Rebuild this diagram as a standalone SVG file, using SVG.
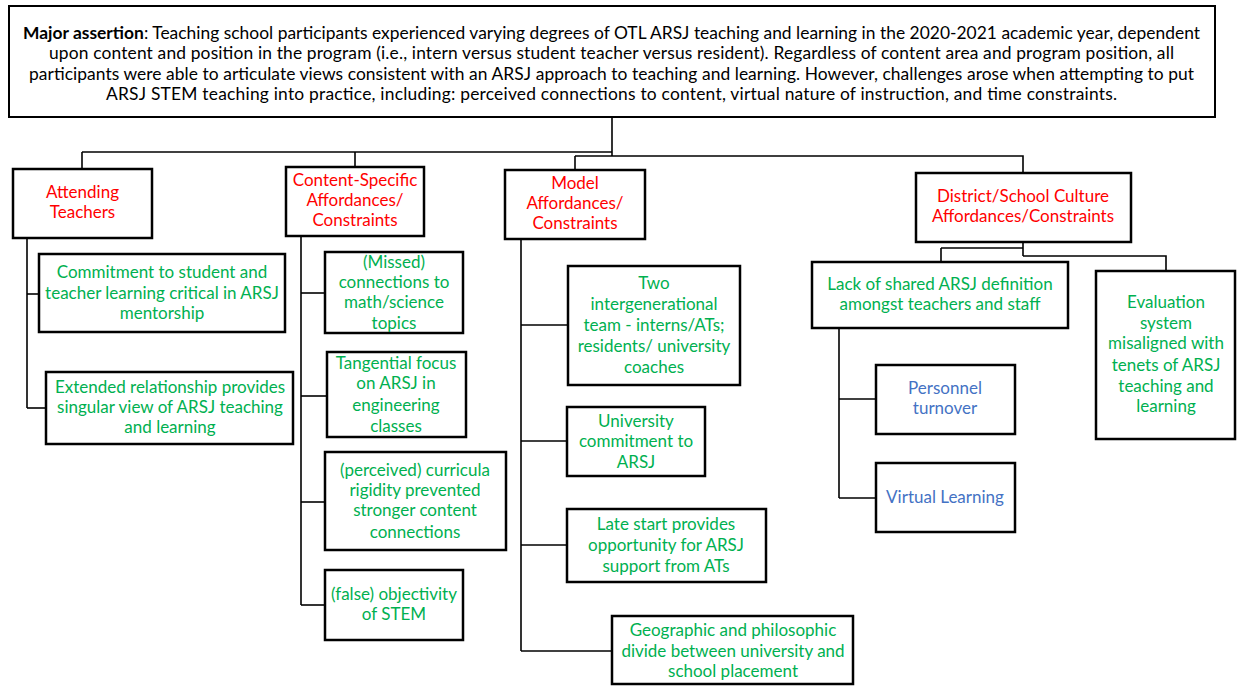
<svg xmlns="http://www.w3.org/2000/svg" width="1238" height="686" viewBox="0 0 1238 686">
  <style>
    text { font-family: Lato, "Liberation Sans", sans-serif; font-size: 17px; text-anchor: middle; }
    .box { fill: #ffffff; stroke: #000000; stroke-width: 2.5; }
    .main { fill: #ffffff; stroke: #000000; stroke-width: 2; }
    .head { fill: #ff0000; }
    .item { fill: #00b050; }
    .sub { fill: #4472c4; }
    .body { fill: #000000; font-size: 17.4px; }
    .wire { fill: none; stroke: #000000; stroke-width: 1.6; }
  </style>
  <rect width="1238" height="686" fill="#ffffff"/>

  <!-- connectors -->
  <g id="connectors" class="wire">
    <path d="M612,117 V156"/>
    <path d="M82,152 H612"/>
    <path d="M82,152 V169"/>
    <path d="M355,152 V167"/>
    <path d="M575,156 H1023 V173"/>
    <path d="M575,156 V170"/>
    <!-- attending teachers -->
    <path d="M27,238 V408"/>
    <path d="M27,294 H39"/>
    <path d="M27,408 H46"/>
    <!-- content-specific -->
    <path d="M301,236 V605"/>
    <path d="M301,293 H325"/>
    <path d="M301,396 H327"/>
    <path d="M301,502 H325"/>
    <path d="M301,605 H325"/>
    <!-- model -->
    <path d="M521,239 V651"/>
    <path d="M521,325 H568"/>
    <path d="M521,441 H567"/>
    <path d="M521,545 H567"/>
    <path d="M521,651 H612"/>
    <!-- district/school culture -->
    <path d="M1023,242 V256"/>
    <path d="M941,248 H1023"/>
    <path d="M941,248 V262"/>
    <path d="M1023,256 H1166 V271"/>
    <path d="M839,328 V498"/>
    <path d="M839,399 H876"/>
    <path d="M839,498 H876"/>
  </g>

  <g id="assertion">
    <rect class="main" x="9" y="6" width="1206" height="111"/>
    <text class="body" x="611.5" y="38.5" textLength="1177" lengthAdjust="spacing"><tspan font-weight="bold">Major assertion</tspan>: Teaching school participants experienced varying degrees of OTL ARSJ teaching and learning in the 2020-2021 academic year, dependent</text>
    <text class="body" x="611.5" y="59" textLength="1125" lengthAdjust="spacing">upon content and position in the program (i.e., intern versus student teacher versus resident). Regardless of content area and program position, all</text>
    <text class="body" x="611.5" y="79.5" textLength="1165" lengthAdjust="spacing">participants were able to articulate views consistent with an ARSJ approach to teaching and learning. However, challenges arose when attempting to put</text>
    <text class="body" x="611.5" y="100" textLength="1011" lengthAdjust="spacing">ARSJ STEM teaching into practice, including: perceived connections to content, virtual nature of instruction, and time constraints.</text>
  </g>

  <g id="attending">
    <rect class="box" x="13" y="169" width="139" height="69"/>
    <text class="head" x="82.5" y="198">Attending</text>
    <text class="head" x="82.5" y="218">Teachers</text>
  </g>
  <g id="content">
    <rect class="box" x="286" y="167" width="138" height="69"/>
    <text class="head" x="355" y="186">Content-Specific</text>
    <text class="head" x="355" y="206">Affordances/</text>
    <text class="head" x="355" y="226">Constraints</text>
  </g>
  <g id="model">
    <rect class="box" x="505" y="170" width="140" height="69"/>
    <text class="head" x="575" y="189">Model</text>
    <text class="head" x="575" y="209">Affordances/</text>
    <text class="head" x="575" y="229">Constraints</text>
  </g>
  <g id="district">
    <rect class="box" x="916" y="173" width="215" height="69"/>
    <text class="head" x="1023" y="202">District/School Culture</text>
    <text class="head" x="1023" y="222">Affordances/Constraints</text>
  </g>

  <g id="commitment">
    <rect class="box" x="39" y="254" width="246" height="78"/>
    <text class="item" x="162" y="278">Commitment to student and</text>
    <text class="item" x="162" y="299">teacher learning critical in ARSJ</text>
    <text class="item" x="162" y="319">mentorship</text>
  </g>
  <g id="extended">
    <rect class="box" x="46" y="372" width="247" height="72"/>
    <text class="item" x="170" y="393">Extended relationship provides</text>
    <text class="item" x="170" y="413">singular view of ARSJ teaching</text>
    <text class="item" x="170" y="433">and learning</text>
  </g>

  <g id="missed">
    <rect class="box" x="325" y="252" width="138" height="81"/>
    <text class="item" x="394" y="268">(Missed)</text>
    <text class="item" x="394" y="288">connections to</text>
    <text class="item" x="394" y="308">math/science</text>
    <text class="item" x="394" y="329">topics</text>
  </g>
  <g id="tangential">
    <rect class="box" x="327" y="352" width="139" height="85"/>
    <text class="item" x="396" y="369">Tangential focus</text>
    <text class="item" x="396" y="389">on ARSJ in</text>
    <text class="item" x="396" y="411">engineering</text>
    <text class="item" x="396" y="432">classes</text>
  </g>
  <g id="perceived">
    <rect class="box" x="325" y="452" width="181" height="98"/>
    <text class="item" x="415" y="476">(perceived) curricula</text>
    <text class="item" x="415" y="496">rigidity prevented</text>
    <text class="item" x="415" y="516">stronger content</text>
    <text class="item" x="415" y="538">connections</text>
  </g>
  <g id="objectivity">
    <rect class="box" x="325" y="570" width="138" height="70"/>
    <text class="item" x="394" y="600">(false) objectivity</text>
    <text class="item" x="394" y="620">of STEM</text>
  </g>

  <g id="intergenerational">
    <rect class="box" x="568" y="266" width="172" height="119"/>
    <text class="item" x="654" y="289">Two</text>
    <text class="item" x="654" y="310">intergenerational</text>
    <text class="item" x="654" y="331">team - interns/ATs;</text>
    <text class="item" x="654" y="352">residents/ university</text>
    <text class="item" x="654" y="373">coaches</text>
  </g>
  <g id="university">
    <rect class="box" x="567" y="407" width="138" height="69"/>
    <text class="item" x="636" y="427">University</text>
    <text class="item" x="636" y="447">commitment to</text>
    <text class="item" x="636" y="468">ARSJ</text>
  </g>
  <g id="late-start">
    <rect class="box" x="567" y="509" width="199" height="73"/>
    <text class="item" x="666" y="530">Late start provides</text>
    <text class="item" x="666" y="551">opportunity for ARSJ</text>
    <text class="item" x="666" y="572">support from ATs</text>
  </g>
  <g id="geographic">
    <rect class="box" x="612" y="616" width="241" height="68"/>
    <text class="item" x="733" y="636">Geographic and philosophic</text>
    <text class="item" x="733" y="657">divide between university and</text>
    <text class="item" x="733" y="677">school placement</text>
  </g>

  <g id="shared-definition">
    <rect class="box" x="812" y="262" width="256" height="66"/>
    <text class="item" x="940" y="290">Lack of shared ARSJ definition</text>
    <text class="item" x="940" y="310">amongst teachers and staff</text>
  </g>
  <g id="evaluation">
    <rect class="box" x="1096" y="271" width="139" height="168"/>
    <text class="item" x="1166" y="308">Evaluation</text>
    <text class="item" x="1166" y="329">system</text>
    <text class="item" x="1166" y="349">misaligned with</text>
    <text class="item" x="1166" y="371">tenets of ARSJ</text>
    <text class="item" x="1166" y="392">teaching and</text>
    <text class="item" x="1166" y="412">learning</text>
  </g>
  <g id="personnel">
    <rect class="box" x="876" y="365" width="139" height="69"/>
    <text class="sub" x="945" y="394">Personnel</text>
    <text class="sub" x="945" y="414">turnover</text>
  </g>
  <g id="virtual">
    <rect class="box" x="876" y="463" width="139" height="69"/>
    <text class="sub" x="945" y="503">Virtual Learning</text>
  </g>
</svg>
